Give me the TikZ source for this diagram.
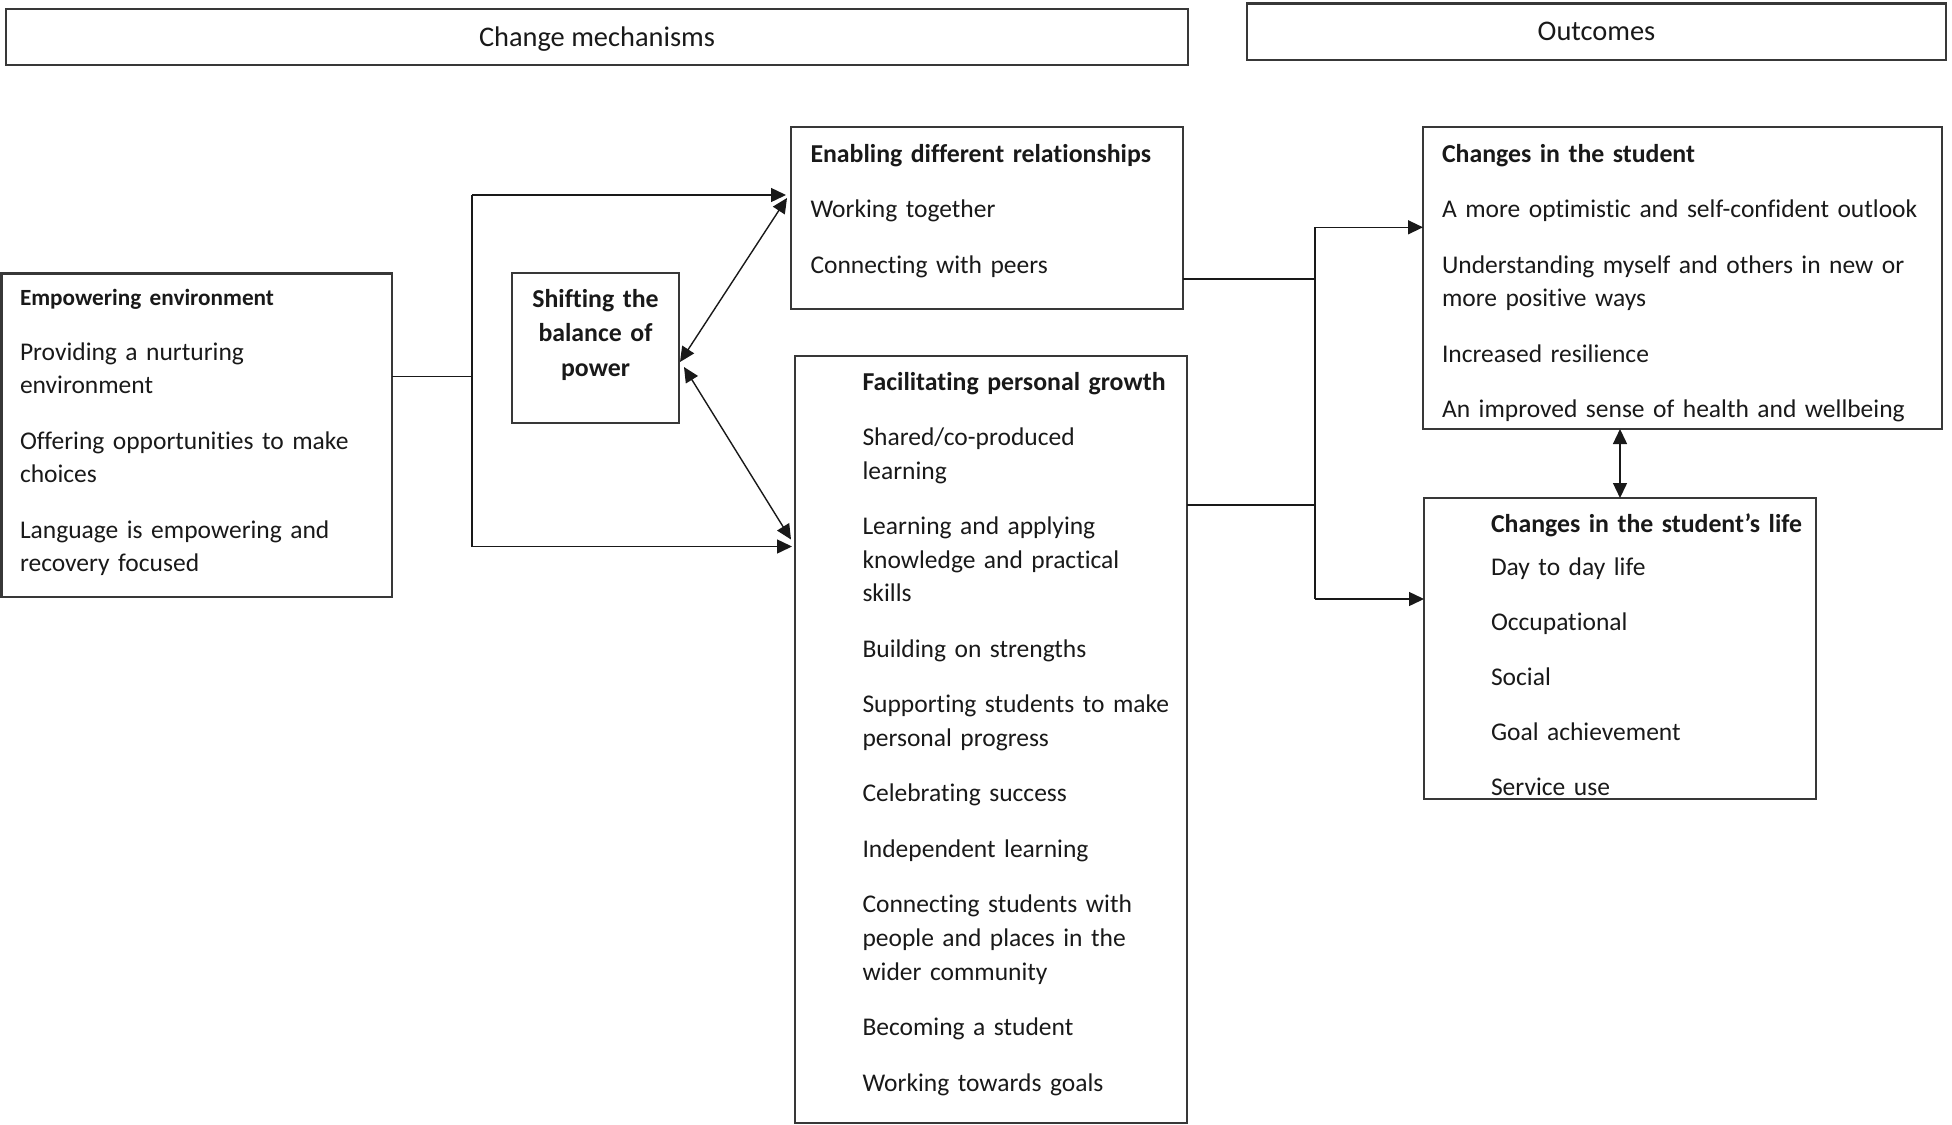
\documentclass[tikz,border=0pt]{standalone}
\usepackage{fontspec}
\setmainfont{Carlito}[Ligatures={NoCommon,NoContextual}]
\usetikzlibrary{arrows.meta,calc}
\newcommand{\bodyfont}{\fontsize{12.75pt}{16.8pt}\selectfont}
\newcommand{\boldhead}{\fontsize{12.9pt}{16.8pt}\selectfont\bfseries}
\newcommand{\titlefont}{\fontsize{14.2pt}{17pt}\selectfont}
\newcommand{\smallhead}{\fontsize{11.6pt}{14pt}\selectfont\bfseries}
\begin{document}
\begin{tikzpicture}[x=0.5pt,y=-0.5pt,
  box/.style={draw=black!78, line width=1.1pt, inner sep=0pt, outer sep=0pt},
  titlebox/.style={box, font=\titlefont, text=black!90},
  txt/.style={anchor=base west, inner sep=0pt, outer sep=0pt, text width=300pt, align=left, font=\bodyfont, text=black!90},
  conn/.style={draw=black!90, line width=0.7pt},
  arr/.style={conn, -{Triangle[length=7.5pt,width=7pt]}},
  darr/.style={conn, {Triangle[length=7.5pt,width=7pt]}-{Triangle[length=7.5pt,width=7pt]}},
]
\useasboundingbox (0,0) rectangle (1952,1124);

% title boxes
\node[titlebox, minimum width=591pt, minimum height=28pt, text height=12pt, text depth=2.5pt] (cm) at (597,37) {Change mechanisms};
\node[titlebox, minimum width=349.5pt, minimum height=28.25pt, text height=12pt, text depth=3pt] (oc) at (1596.5,31.75) {Outcomes};

% boxes
\node[box, minimum width=195.25pt, minimum height=161.75pt] (emp) at (196.75,435.25) {};
\node[box, minimum width=83.5pt, minimum height=75pt] (shift) at (595.5,348) {};
\node[box, minimum width=196pt, minimum height=91pt] (enab) at (987,218) {};
\node[box, minimum width=196pt, minimum height=383.5pt] (fac) at (991,739.5) {};
\node[box, minimum width=259.5pt, minimum height=151pt] (stu) at (1682.5,278) {};
\node[box, minimum width=196pt, minimum height=150.5pt] (life) at (1620,648.5) {};

% texts
\node[txt] (empt) at (20,305) {{\smallhead Empowering environment}\\[10.7pt]
Providing a nurturing\\ environment\\[10.95pt]
Offering opportunities to make\\ choices\\[10.95pt]
Language is empowering and\\ recovery focused};

\node[anchor=base, inner sep=0pt, text width=80pt, align=center, font=\fontsize{12.9pt}{17.2pt}\selectfont\bfseries, text=black!90] (shiftt) at (595.5,307.5) {Shifting the\\ balance of\\ power};

\node[txt] (enabt) at (810.5,162) {{\boldhead Enabling different relationships}\\[10.95pt]
Working together\\[10.95pt]
Connecting with peers};

\node[txt] (fact) at (862.5,390) {{\boldhead Facilitating personal growth}\\[10.95pt]
Shared/co-produced\\ learning\\[10.95pt]
Learning and applying\\ knowledge and practical\\ skills\\[10.95pt]
Building on strengths\\[10.95pt]
Supporting students to make\\ personal progress\\[10.95pt]
Celebrating success\\[10.95pt]
Independent learning\\[10.95pt]
Connecting students with\\ people and places in the\\ wider community\\[10.95pt]
Becoming a student\\[10.95pt]
Working towards goals};

\node[txt] (stut) at (1442,162) {{\boldhead Changes in the student}\\[10.95pt]
A more optimistic and self-confident outlook\\[10.95pt]
Understanding myself and others in new or\\ more positive ways\\[10.95pt]
Increased resilience\\[10.95pt]
An improved sense of health and wellbeing};

\node[txt] (lifet) at (1491,532.7) {{\boldhead Changes in the student’s life}\\[4.35pt]
Day to day life\\[10.7pt]
Occupational\\[10.7pt]
Social\\[10.7pt]
Goal achievement\\[10.7pt]
Service use};

% left connectors
\coordinate (jl) at (472,376.7);
\coordinate (jlt) at (472,195);
\coordinate (jlb) at (472,546.5);
\draw[conn] (jl -| emp.east) -- (jl);
\draw[conn] (jlt) -- (jlb);
\draw[arr] (jlt) -- ($(jlt -| enab.west)+(-5,0)$);
\draw[arr] (jlb) -- ($(jlb -| fac.west)+(-3,0)$);
\draw[darr] ($(shift.east)+(1,14)$) -- ($(enab.west)+(-4,-20)$);
\draw[darr] ($(shift.east)+(5,19)$) -- ($(fac.west)+(-4,-200)$);

% right connectors
\coordinate (er) at (1315,279);
\coordinate (fr) at (1315,505);
\coordinate (jrt) at (1315,227.3);
\coordinate (jrb) at (1315,599);
\draw[conn] (er -| enab.east) -- (er);
\draw[conn] (fr -| fac.east) -- (fr);
\draw[conn] (jrt) -- (jrb);
\draw[arr] (jrt) -- (jrt -| stu.west);
\draw[arr] (jrb) -- (jrb -| life.west);
\draw[darr] (life.north |- stu.south) -- (life.north);
\end{tikzpicture}
\end{document}
